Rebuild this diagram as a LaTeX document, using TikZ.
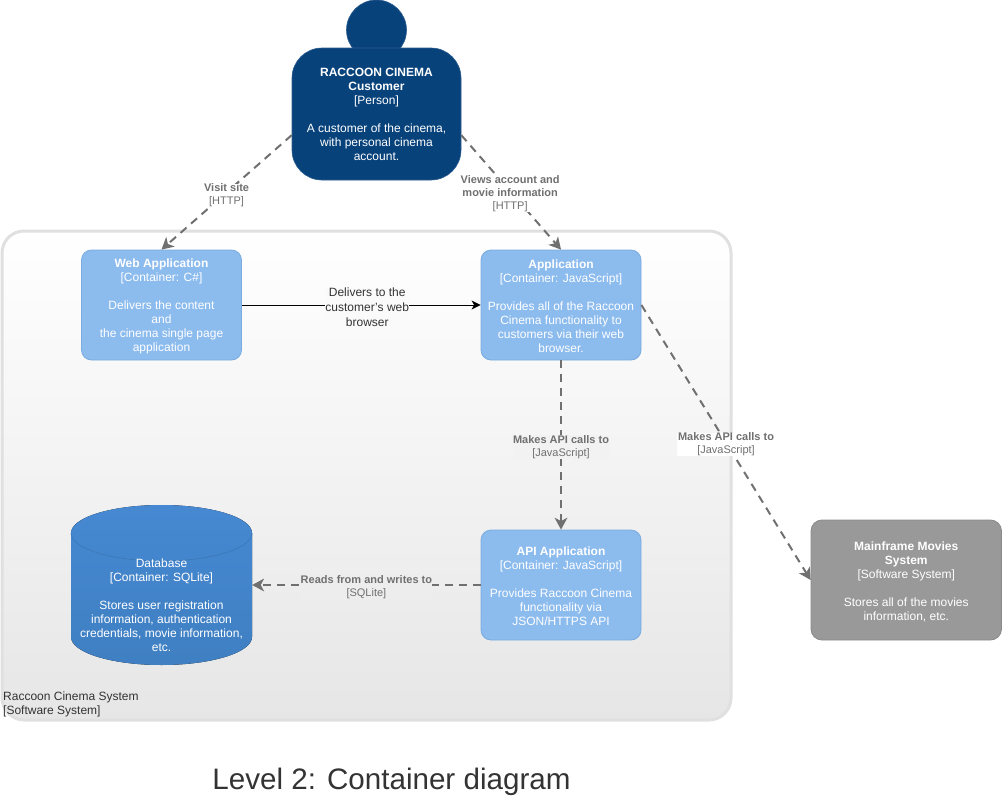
\documentclass[tikz,border=0pt]{standalone}
\usepackage{fontspec}
\setmainfont{Liberation Sans}
\usetikzlibrary{arrows.meta,calc}
\definecolor{personblue}{HTML}{08427B}
\definecolor{appblue}{HTML}{8CBBEE}
\definecolor{appedge}{HTML}{7AACDF}
\definecolor{dbtop}{HTML}{4689D2}
\definecolor{dbbot}{HTML}{3F7FC2}
\definecolor{dbedge}{HTML}{3C78B8}
\definecolor{sysgray}{HTML}{999999}
\definecolor{sysedge}{HTML}{8A8A8A}
\definecolor{linkgray}{HTML}{707070}
\definecolor{bndedge}{HTML}{E0E0E0}
\definecolor{bndbot}{HTML}{E6E6E6}
\definecolor{inkdark}{HTML}{333333}
\newcommand\toppad[1]{\rule{0pt}{#1}}
\tikzset{
  boxtext/.style={align=center,text=white,font=\fontsize{12}{14}\selectfont,inner sep=0pt},
  appbox/.style={boxtext,rectangle,rounded corners=10pt,fill=appblue,draw=appedge,line width=.8pt,
    minimum width=160pt,minimum height=110pt},
  sysbox/.style={boxtext,rectangle,rounded corners=11pt,fill=sysgray,draw=sysedge,line width=.8pt,
    minimum width=190.5pt,minimum height=120pt},
  bodybox/.style={boxtext,rectangle,rounded corners=30pt,fill=personblue,draw=personblue!85!white,line width=.6pt,
    minimum width=169pt,minimum height=132pt},
  headdisc/.style={circle,fill=personblue,draw=personblue!85!white,line width=.6pt,minimum size=60pt,inner sep=0pt},
  boundary/.style={rectangle,rounded corners=22pt,top color=white,bottom color=bndbot,draw=bndedge,line width=3pt,
    minimum width=729pt,minimum height=489pt,inner sep=0pt},
  deplink/.style={draw=linkgray,line width=2pt,dash pattern=on 8pt off 6pt,
    -{Stealth[length=12pt,width=13pt,inset=3.5pt,color=linkgray,line width=0pt]}},
  weblink/.style={draw=black,line width=.9pt,-{Stealth[length=9pt,width=9pt,inset=2.5pt]}},
  linklabel/.style={align=center,text=linkgray,font=\fontsize{11}{13}\selectfont,inner sep=0pt,outer sep=0pt},
  darklabel/.style={align=center,text=inkdark,font=\fontsize{12}{15}\selectfont,inner sep=0pt,outer sep=0pt},
}
\begin{document}
\begin{tikzpicture}[x=1pt,y=-1pt]
\useasboundingbox (0,0) rectangle (1002,811);
% boundary
\node[boundary] (bnd) at (366.5,475.5) {};
\node[anchor=north west,align=left,text=inkdark,font=\fontsize{12}{14}\selectfont,inner sep=0pt] (bndlabel) at (3,692)
  {Raccoon Cinema System\\{}[Software System]};
% person
\node[headdisc] (head) at (376.5,30) {};
\node[bodybox] (body) at (376.5,114) {\toppad{10pt}\textbf{RACCOON CINEMA}\\\textbf{Customer}\\{}[Person]\\[14pt]A customer of the cinema,\\with personal cinema\\account.};
% containers
\node[appbox] (web) at (161.5,305) {\toppad{11.5pt}\textbf{Web Application}\\{}[Container: C\#]\\[14pt]Delivers the content\\and\\the cinema single page\\application};
\node[appbox] (app) at (561,305) {\toppad{11.5pt}\textbf{Application}\\{}[Container: JavaScript]\\[14pt]Provides all of the Raccoon\\Cinema functionality to\\customers via their web\\browser.};
\node[appbox] (api) at (561,585) {\toppad{11.5pt}\textbf{API Application}\\{}[Container: JavaScript]\\[14pt]Provides Raccoon Cinema\\functionality via\\JSON/HTTPS API};
% database
\node[rectangle,minimum width=181pt,minimum height=161pt,inner sep=0pt] (db) at (161.5,585) {};
\fill[top color=dbtop,bottom color=dbbot] (71,533) .. controls (71,517.5) and (111.5,505) .. (161.5,505)
  .. controls (211.5,505) and (252,517.5) .. (252,533) -- (252,637)
  .. controls (252,652.5) and (211.5,665) .. (161.5,665) .. controls (111.5,665) and (71,652.5) .. (71,637) -- cycle;
\draw[dbedge,line width=.7pt] (71,533) .. controls (71,548.5) and (111.5,561) .. (161.5,561) .. controls (211.5,561) and (252,548.5) .. (252,533);
\node[boxtext] (dbtext) at (161.5,605) {Database\\{}[Container: SQLite]\\[14pt]Stores user registration\\information, authentication\\credentials, movie information,\\etc.};
% external system
\node[sysbox] (main) at (906.25,580) {\toppad{12pt}\textbf{Mainframe Movies}\\\textbf{System}\\{}[Software System]\\[14pt]Stores all of the movies\\information, etc.};
% connectors
\draw[deplink] (body.194) -- (web.north) node[midway,linklabel,fill=white,yshift=-3pt] (l1) {\textbf{Visit site}\\{}[HTTP]};
\draw[deplink] (body.346) -- (app.north) node[midway,linklabel,fill=white,yshift=-1pt,xshift=-1pt] (l2) {\textbf{Views account and}\\\textbf{movie information}\\{}[HTTP]};
\draw[weblink] (web.east) -- (app.west) node[midway,darklabel,fill=white!98!black,xshift=6pt,yshift=-2pt] (l3) {Delivers to the\\customer's web\\browser};
\draw[deplink] (app.south) -- (api.north) node[midway,linklabel,fill=white!95!black,yshift=-2pt] (l4) {\textbf{Makes API calls to}\\{}[JavaScript]};
\draw[deplink] (app.east) -- (main.west) node[midway,linklabel,fill=white,yshift=-2pt,inner xsep=1pt] (l5) {\textbf{Makes API calls to}\\{}[JavaScript]};
\draw[deplink] (api.west) -- (db.east) node[midway,linklabel,fill=white!93!black,yshift=-2pt] (l6) {\textbf{Reads from and writes to}\\{}[SQLite]};
% title
\node[text=inkdark,font=\fontsize{29.6}{36}\selectfont,inner sep=0pt] (title) at (391.5,782) {Level 2: Container diagram};
\end{tikzpicture}
\end{document}
